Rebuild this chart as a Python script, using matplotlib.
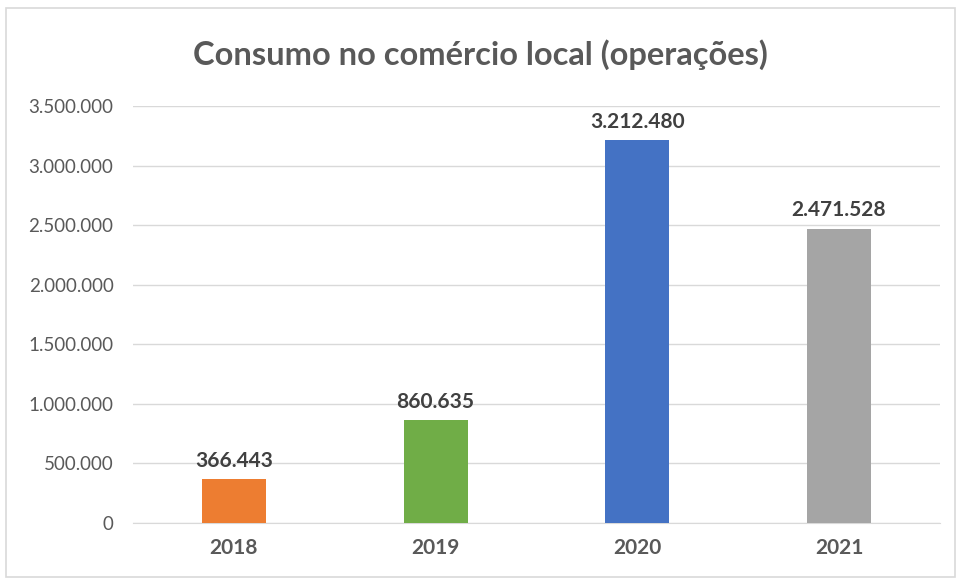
import matplotlib.pyplot as plt
from matplotlib.patches import Rectangle
from matplotlib.ticker import FuncFormatter

plt.rcParams['font.family'] = ['Lato', 'DejaVu Sans']

anos = ['2018', '2019', '2020', '2021']
operacoes = [366443, 860635, 3212480, 2471528]
cores = ['#ED7D31', '#70AD47', '#4472C4', '#A5A5A5']
titulo = 'Consumo no comércio local (operações)'

def fmt_pt(v, pos=None):
    return f'{int(v):,}'.replace(',', '.')

fig = plt.figure(figsize=(9.6, 5.8), dpi=100)
fig.patches.append(Rectangle((0.006, 0.005), 0.989, 0.981, transform=fig.transFigure,
                             fill=False, edgecolor='#D9D9D9', linewidth=1.2))
ax = fig.add_axes([0.1385, 0.0983, 0.8405, 0.7187])

x = range(len(anos))
ax.bar(x, operacoes, width=0.317, color=cores, zorder=3)
for i, v in enumerate(operacoes):
    ax.text(i, v + 70000, fmt_pt(v), ha='center', va='bottom', fontsize=15,
            fontweight='bold', color='#404040')

ax.set_xlim(-0.5, 3.5)
ax.set_ylim(0, 3500000)
ax.set_yticks(range(0, 3500001, 500000))
ax.yaxis.set_major_formatter(FuncFormatter(fmt_pt))
ax.set_xticks(list(x))
ax.set_xticklabels(anos, fontsize=15, fontweight='bold', color='#595959')
ax.tick_params(axis='y', labelsize=13.5, labelcolor='#595959', length=0, pad=14)
ax.tick_params(axis='x', length=0, pad=11)
ax.grid(axis='y', color='#D9D9D9', linewidth=1, zorder=0)
for s in ['top', 'right', 'left']:
    ax.spines[s].set_visible(False)
ax.spines['bottom'].set_color('#D9D9D9')

fig.text(0.5, 0.905, titulo, ha='center', va='center', fontsize=23.5,
         fontweight='bold', color='#595959')

fig.savefig('out.png', dpi=100)
